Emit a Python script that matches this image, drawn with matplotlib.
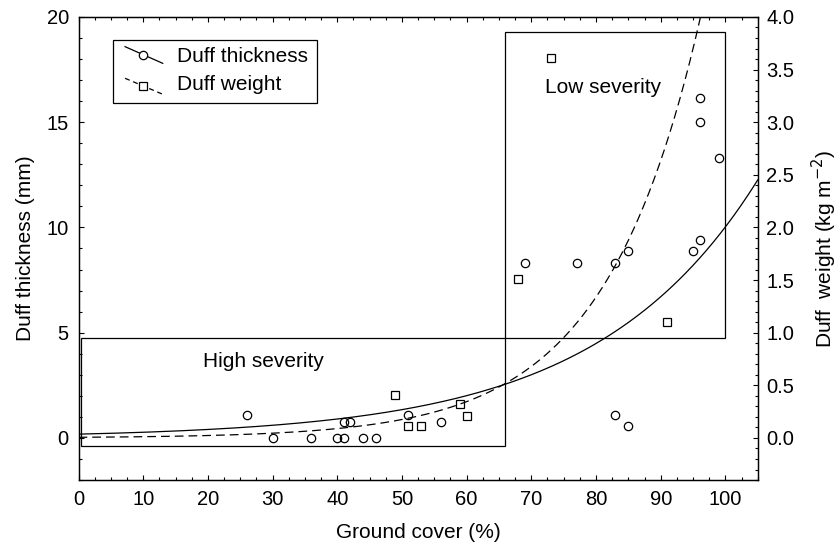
import numpy as np
import matplotlib
matplotlib.use("Agg")
import matplotlib.pyplot as plt
from matplotlib.patches import Rectangle
from matplotlib.lines import Line2D
from matplotlib.ticker import MultipleLocator

plt.rcParams['font.family'] = ['Liberation Sans', 'DejaVu Sans']

# Duff thickness (mm) against ground cover (%)
thick_cover = [26, 30, 36, 40, 41, 41, 42, 44, 46, 51, 56, 69, 77, 83, 85,
               83, 85, 95, 96, 96, 96, 99]
thick_mm = [1.07, 0.0, 0.0, 0.0, 0.0, 0.77, 0.77, 0.0, 0.0, 1.09, 0.78,
            8.3, 8.3, 8.3, 8.9, 1.07, 0.56, 8.9, 9.4, 16.15, 15.0, 13.3]

# Duff weight (kg m-2) against ground cover (%)
weight_cover = [49, 51, 53, 59, 60, 68, 73, 91]
weight_kg = [0.41, 0.11, 0.11, 0.32, 0.21, 1.51, 3.61, 1.10]

# Exponential regression fits y = a * exp(b * x)
thick_fit = (0.18, 0.0402)
weight_fit = (0.0059, 0.0678)

FS = 15
TS = 14.5

fig = plt.figure(figsize=(8.37, 5.44), dpi=100)
ax = fig.add_axes([0.0938, 0.1176, 0.8115, 0.8512])
ax2 = ax.twinx()

ax.set_xlim(0, 105)
ax.set_ylim(-2, 20)

xs = np.linspace(0, 105, 400)
ax.plot(xs, thick_fit[0] * np.exp(thick_fit[1] * xs), color='black', lw=0.9)
ax2.plot(xs, weight_fit[0] * np.exp(weight_fit[1] * xs), color='black', lw=0.9,
         dashes=(7, 4))

ax.plot(thick_cover, thick_mm, linestyle='none', marker='o', ms=6,
        mfc='none', mec='black', mew=0.9)
ax2.plot(weight_cover, weight_kg, linestyle='none', marker='s', ms=5.5,
         mfc='none', mec='black', mew=0.9)

# Severity class boxes
ax.add_patch(Rectangle((0.4, -0.36), 65.5, 5.1, fill=False, ec='black', lw=0.9))
ax.add_patch(Rectangle((65.9, 4.74), 34.1, 14.56, fill=False, ec='black', lw=0.9))
ax.text(19.3, 3.64, 'High severity', fontsize=FS, va='center', ha='left')
ax.text(72.1, 16.67, 'Low severity', fontsize=FS, va='center', ha='left')

# Legend with slanted handles
T = ax.transAxes
ax.add_patch(Rectangle((0.0512, 0.8136), 0.2995, 0.1367, transform=T,
                       fill=True, fc='white', ec='black', lw=0.9, zorder=5))
ax.add_line(Line2D([0.0685, 0.124], [0.9359, 0.8999], transform=T,
                   color='black', lw=0.9, zorder=6))
ax.plot([0.0954], [0.9179], transform=T, marker='o', ms=6, mfc='white',
        mec='black', mew=0.9, zorder=7)
ax.add_line(Line2D([0.0685, 0.124], [0.8676, 0.8331], transform=T,
                   color='black', lw=0.9, dashes=(4, 3), zorder=6))
ax.plot([0.0954], [0.851], transform=T, marker='s', ms=5.5, mfc='white',
        mec='black', mew=0.9, zorder=7)
ax.text(0.1446, 0.9143, 'Duff thickness', transform=T, fontsize=FS,
        va='center', ha='left', zorder=8)
ax.text(0.1446, 0.8531, 'Duff weight', transform=T, fontsize=FS,
        va='center', ha='left', zorder=8)

# Axes, ticks and labels
ax.xaxis.set_major_locator(MultipleLocator(10))
ax.xaxis.set_minor_locator(MultipleLocator(2.5))
ax.yaxis.set_major_locator(MultipleLocator(5))
ax.yaxis.set_minor_locator(MultipleLocator(1))
ax2.yaxis.set_minor_locator(MultipleLocator(0.1))
ax2.set_yticks(np.arange(0, 4.01, 0.5))
ax2.set_yticklabels([f'{v:.1f}' for v in np.arange(0, 4.01, 0.5)])
ax2.set_ylim(-0.4, 4.0)

ax.tick_params(axis='x', which='both', direction='in', top=True, bottom=True,
               labelsize=TS, pad=7)
ax.tick_params(axis='y', which='both', direction='in', left=True, right=False,
               labelsize=TS, pad=7)
ax2.tick_params(axis='y', which='both', direction='in', right=True,
                labelsize=TS, pad=6)
for a in (ax, ax2):
    a.tick_params(which='major', length=3.5, width=0.8)
    a.tick_params(which='minor', length=2, width=0.8)
    for s in a.spines.values():
        s.set_linewidth(0.9)

ax.set_xlabel('Ground cover (%)', fontsize=FS, labelpad=10)
ax.set_ylabel('Duff thickness (mm)', fontsize=FS, labelpad=8)
ax2.set_ylabel('Duff  weight (kg m$^{-2}$)', fontsize=FS, labelpad=11)

fig.savefig('out.png', dpi=100)
